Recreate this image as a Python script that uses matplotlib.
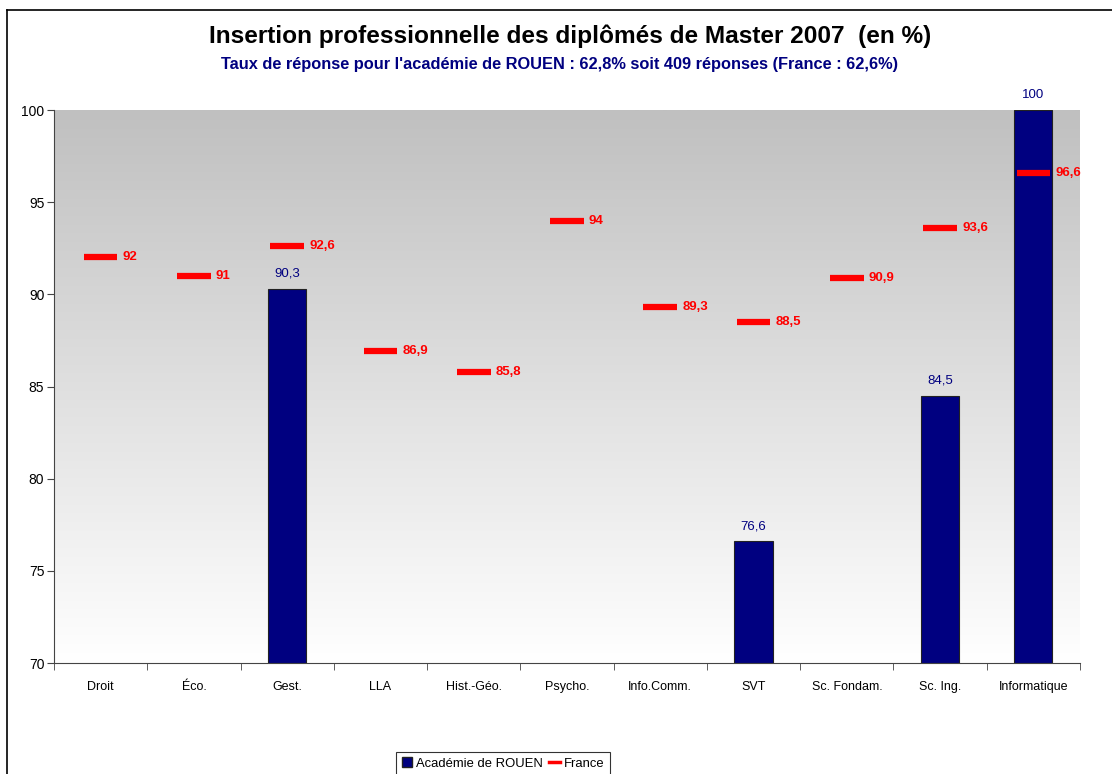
import matplotlib
matplotlib.use('Agg')
import matplotlib.pyplot as plt
import numpy as np
from matplotlib.lines import Line2D
from matplotlib.patches import Patch

plt.rcParams['font.family'] = ['Liberation Sans', 'DejaVu Sans']

categories = ['Droit', 'Éco.', 'Gest.', 'LLA', 'Hist.-Géo.', 'Psycho.',
              'Info.Comm.', 'SVT', 'Sc. Fondam.', 'Sc. Ing.', 'Informatique']
rouen = [None, None, 90.3, None, None, None, None, 76.6, None, 84.5, 100]
france = [92, 91, 92.6, 86.9, 85.8, 94, 89.3, 88.5, 90.9, 93.6, 96.6]

navy = '#000080'
red = '#ff0000'


def fmt(v):
    s = ('%.1f' % v).rstrip('0').rstrip('.')
    return s.replace('.', ',')


fig = plt.figure(figsize=(11.12, 7.74), dpi=100)
ax = fig.add_axes([54 / 1112, 1 - 663 / 774, (1080 - 54) / 1112, (663 - 110) / 774])

x = np.arange(len(categories))

# gradient background (grey at top -> white at bottom)
grad = np.linspace(1, 0, 256).reshape(-1, 1)
ax.imshow(grad, extent=[-0.5, len(categories) - 0.5, 70, 100], aspect='auto',
          cmap=matplotlib.colors.LinearSegmentedColormap.from_list('g', ['#ffffff', '#c0c0c0']),
          vmin=0, vmax=1, zorder=0, origin='upper')

# bars for Rouen
for xi, v in zip(x, rouen):
    if v is None:
        continue
    ax.bar(xi, v - 70, bottom=70, width=0.41, color=navy, edgecolor='#222222',
           linewidth=0.8, zorder=2)
    ax.text(xi, v + 0.5, fmt(v), ha='center', va='bottom', color=navy, fontsize=9.5, zorder=4)

# France markers
for xi, v in zip(x, france):
    ax.plot([xi - 0.18, xi + 0.18], [v, v], color=red, linewidth=4.5,
            solid_capstyle='butt', zorder=3)
    ax.text(xi + 0.235, v, fmt(v), ha='left', va='center', color=red,
            fontsize=9.5, fontweight='bold', zorder=4)

ax.set_xlim(-0.5, len(categories) - 0.5)
ax.set_ylim(70, 100)
ax.set_yticks([70, 75, 80, 85, 90, 95, 100])
ax.set_yticklabels([str(t) for t in [70, 75, 80, 85, 90, 95, 100]], fontsize=10)
ax.set_xticks(x)
ax.set_xticklabels(categories, fontsize=9)
ax.tick_params(axis='x', length=0, pad=13)
ax.set_xticks(np.arange(-0.5, len(categories) + 0.5, 1), minor=True)
ax.tick_params(axis='x', which='minor', length=5, direction='out', color='#444444')
ax.tick_params(axis='y', length=5, direction='out', color='#444444', pad=2)
for s in ['top', 'right']:
    ax.spines[s].set_visible(False)
ax.spines['left'].set_color('#444444')
ax.spines['bottom'].set_color('#444444')

fig.text(570 / 1112, 1 - 36 / 774, 'Insertion professionnelle des diplômés de Master 2007  (en %)',
         ha='center', va='center', fontsize=17.6, fontweight='bold', color='black')
fig.text(560 / 1112, 1 - 64 / 774, "Taux de réponse pour l'académie de ROUEN : 62,8% soit 409 réponses (France : 62,6%)",
         ha='center', va='center', fontsize=11.8, fontweight='bold', color=navy)

# outer frame lines (left and top)
fig.add_artist(Line2D([7 / 1112, 7 / 1112], [0, 1 - 10 / 774], color='black', linewidth=1.2,
                      transform=fig.transFigure))
fig.add_artist(Line2D([7 / 1112, 1], [1 - 10 / 774, 1 - 10 / 774], color='black', linewidth=1.2,
                      transform=fig.transFigure))

handles = [Patch(facecolor=navy, edgecolor='#222222', label='Académie de ROUEN'),
           Line2D([0], [0], color=red, linewidth=2.5, label='France')]
leg = fig.legend(handles=handles, loc='upper center', bbox_to_anchor=(503 / 1112, 1 - 752 / 774),
                 ncol=2, fontsize=9.4, frameon=True, fancybox=False, edgecolor='black',
                 handlelength=0.8, handleheight=0.8, handletextpad=0.3, columnspacing=0.5,
                 borderpad=0.4, borderaxespad=0)
leg.get_frame().set_linewidth(0.8)

fig.savefig('out.png', dpi=100)
